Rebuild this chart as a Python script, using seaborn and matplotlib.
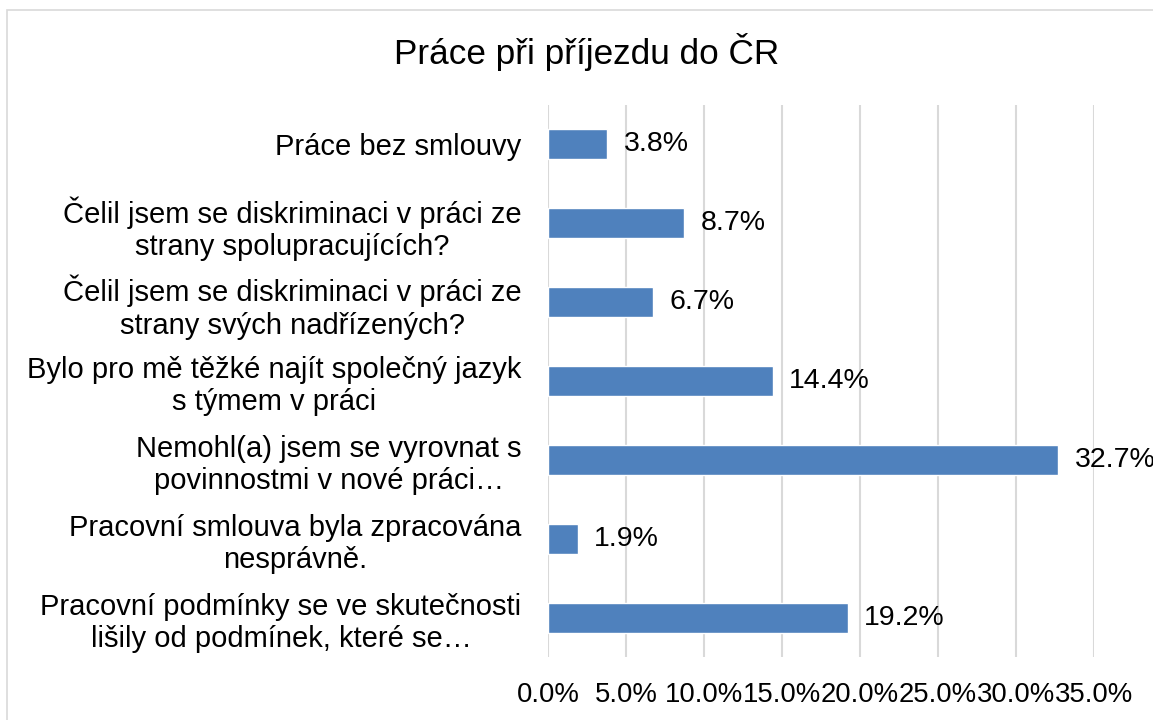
import matplotlib
matplotlib.use("Agg")
import matplotlib.pyplot as plt
import seaborn as sns
import pandas as pd
from matplotlib.patches import Rectangle

categories = [
    "Práce bez smlouvy",
    "Čelil jsem se diskriminaci v práci ze\nstrany spolupracujících?",
    "Čelil jsem se diskriminaci v práci ze\nstrany svých nadřízených?",
    "Bylo pro mě těžké najít společný jazyk\ns týmem v práci",
    "Nemohl(a) jsem se vyrovnat s\npovinnostmi v nové práci…",
    "Pracovní smlouva byla zpracována\nnesprávně.",
    "Pracovní podmínky se ve skutečnosti\nlišily od podmínek, které se…",
]
values = [3.8, 8.7, 6.7, 14.4, 32.7, 1.9, 19.2]
ticks = [0, 5, 10, 15, 20, 25, 30, 35]

sns.set_style("white")
plt.rcParams["font.family"] = ["Liberation Sans", "DejaVu Sans"]
plt.rcParams["text.color"] = "black"
plt.rcParams["xtick.color"] = "black"
plt.rcParams["ytick.color"] = "black"

df = pd.DataFrame({"kategorie": categories, "podil": values})

fig = plt.figure(figsize=(11.53, 7.2), dpi=100)
ax = fig.add_axes([548 / 1153, 1 - 657 / 720, (1094 - 548) / 1153, (657 - 105) / 720])

sns.barplot(data=df, y="kategorie", x="podil", orient="h", color="#4F81BD",
            width=0.38, ax=ax, saturation=1)

ax.set_xlim(0, 35)
ax.set_xticks(ticks)
ax.set_xticklabels([f"{t:.1f}%" for t in ticks], fontsize=19.8)
ax.tick_params(axis="x", length=0, pad=18)
ax.tick_params(axis="y", length=0, pad=19)
for lbl in ax.get_yticklabels():
    lbl.set_fontsize(21)
    lbl.set_multialignment("center")
    lbl.set_color("black")
ax.set_xlabel("")
ax.set_ylabel("")
ax.grid(axis="x", color="#D9D9D9", linewidth=1.5)
ax.set_axisbelow(True)
for s in ax.spines.values():
    s.set_visible(False)

ax.bar_label(ax.containers[0], labels=[f"{v:.1f}%" for v in values],
             padding=12, fontsize=20.5, color="black")

fig.text(587 / 1153, 1 - 52 / 720, "Práce při příjezdu do ČR", ha="center",
         va="center", fontsize=25.3, color="black")

fig.patches.append(Rectangle((7 / 1153, -0.1), 1.2, 1.1 - 10 / 720, transform=fig.transFigure,
                             fill=False, edgecolor="#D9D9D9", linewidth=1.2))

fig.savefig("out.png", dpi=100)
